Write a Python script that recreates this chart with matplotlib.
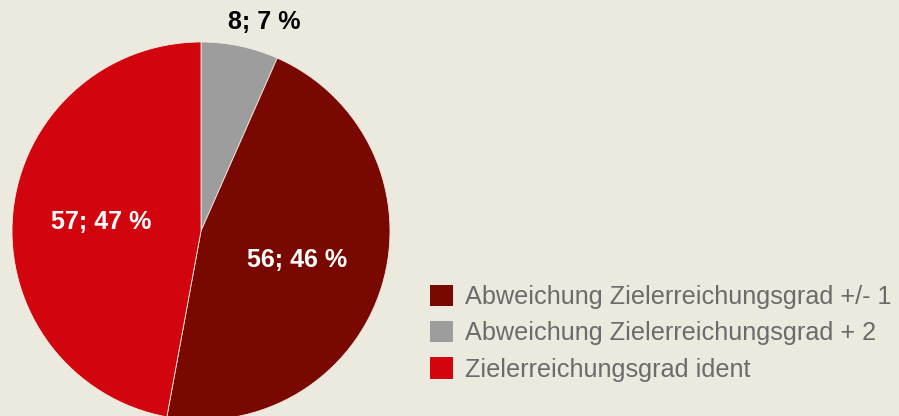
import matplotlib
matplotlib.use("Agg")
import matplotlib.pyplot as plt
import matplotlib.patches as mpatches
import numpy as np

categories = ["Abweichung Zielerreichungsgrad +/- 1",
              "Abweichung Zielerreichungsgrad + 2",
              "Zielerreichungsgrad ident"]
values = [56, 8, 57]
colors = ["#790800", "#9d9d9d", "#d2050e"]
pcts = [46, 7, 47]

# drawing order (clockwise from 12 o'clock): gray, dark red, red
order = [1, 0, 2]

BG = "#eceadf"
W, H = 899, 416
fig = plt.figure(figsize=(W / 100, H / 100), dpi=100, facecolor=BG)

cx, cy, r = 201, 231, 189
ax = fig.add_axes([(cx - r) / W, (H - cy - r) / H, 2 * r / W, 2 * r / H])
ax.set_facecolor(BG)
ax.axis("off")

wedges, _ = ax.pie([values[i] for i in order], colors=[colors[i] for i in order],
                   startangle=90, counterclock=False, radius=1,
                   wedgeprops=dict(linewidth=0.6, edgecolor=BG))
ax.set_xlim(-1, 1)
ax.set_ylim(-1, 1)
ax.set_aspect("equal")

for w, i in zip(wedges, order):
    mid = np.deg2rad((w.theta1 + w.theta2) / 2)
    text = f"{values[i]}; {pcts[i]} %"
    if i == 1:
        dist = 1.13
        x, y = dist * np.cos(mid) + 0.10, dist * np.sin(mid)
        col = "black"
    else:
        dist = 0.53
        x, y = dist * np.cos(mid), dist * np.sin(mid)
        col = "white"
    ax.text(x, y, text, ha="center", va="center", color=col,
            fontsize=18, fontweight="bold", family="Liberation Sans", clip_on=False)

handles = [mpatches.Patch(facecolor=colors[i], edgecolor="none") for i in range(3)]
leg = fig.legend(handles, categories, loc="upper left",
                 bbox_to_anchor=(407 / W, 1 - 262 / H), frameon=False,
                 prop=dict(family="Liberation Sans", size=18.2),
                 handlelength=0.92, handleheight=0.92, handletextpad=0.48,
                 labelspacing=0.47, labelcolor="#6b6b6b")

fig.savefig("out.png", dpi=100, facecolor=BG)
